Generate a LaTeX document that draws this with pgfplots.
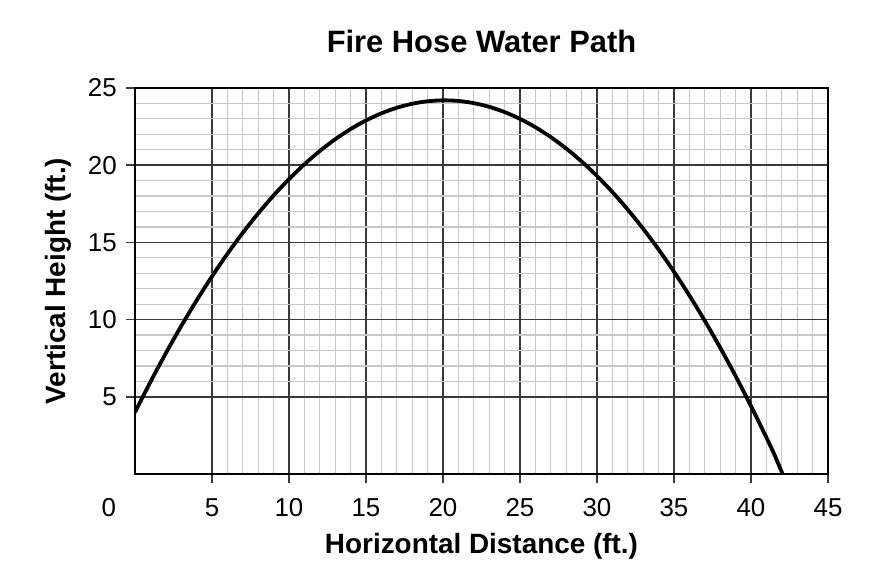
\documentclass[border=0pt]{standalone}
\usepackage{fontspec}
\setmainfont{Liberation Sans}
\usepackage{pgfplots}
\pgfplotsset{compat=1.18}
\definecolor{majgrid}{HTML}{3A3A3A}
\definecolor{mingrid}{HTML}{C8C8C8}
\begin{document}
\begin{tikzpicture}
\path[use as bounding box] (0,0) rectangle (892bp,584bp);
\begin{axis}[
 at={(135bp,110bp)}, anchor=south west,
 width=693bp, height=386bp, scale only axis,
 xmin=0, xmax=45, ymin=0, ymax=25,
 xtick={5,10,...,45}, ytick={5,10,...,25},
 extra x ticks={0}, extra x tick labels={\llap{0\hspace{19bp}}},
 extra x tick style={grid=none, major tick style={draw=none}},
 minor x tick num=4, minor y tick num=4,
 tick pos=left,
 grid=both,
 major grid style={majgrid, line width=1.6bp},
 minor grid style={mingrid, line width=1.2bp},
 axis line style={black, line width=2.2bp},
 tick align=outside, major tick length=9bp, minor tick length=0pt,
 major tick style={majgrid, line width=1.6bp},
 tick label style={font=\fontsize{26}{30}\selectfont},
 /pgf/number format/assume math mode=true,
 xticklabel style={anchor=north, inner sep=0pt, yshift=-15bp},
 yticklabel style={anchor=east, inner sep=0pt, xshift=-9bp},
 title={Fire Hose Water Path},
 title style={font=\bfseries\fontsize{31}{36}\selectfont, at={(axis description cs:0.5,1.1062)}, anchor=center},
 xlabel={Horizontal Distance (ft.)},
 xlabel style={font=\bfseries\fontsize{28}{33}\selectfont, at={(axis description cs:0.5,-0.1865)}, anchor=center},
 ylabel={Vertical Height (ft.)},
 ylabel style={font=\bfseries\fontsize{28}{33}\selectfont, at={(axis description cs:-0.111,0.5)}, anchor=center},
]
\addplot[black, line width=3.8bp, smooth] coordinates {
(0,4.00) (1,5.96) (2,7.82) (3,9.58) (4,11.24) (5,12.80) (6,14.26) (7,15.62)
(8,16.88) (9,18.04) (10,19.10) (11,20.06) (12,20.92) (13,21.68) (14,22.34)
(15,22.90) (16,23.36) (17,23.72) (18,23.98) (19,24.14) (20,24.20) (21,24.16)
(22,24.02) (23,23.78) (24,23.44) (25,23.00) (26,22.46) (27,21.82) (28,21.08)
(29,20.24) (30,19.30) (31,18.26) (32,17.12) (33,15.88) (34,14.54) (35,13.10)
(36,11.56) (37,9.92) (38,8.18) (39,6.34) (40,4.40) (41,2.36) (41.5,1.30) (42.05,0)
};
\end{axis}
\end{tikzpicture}
\end{document}
